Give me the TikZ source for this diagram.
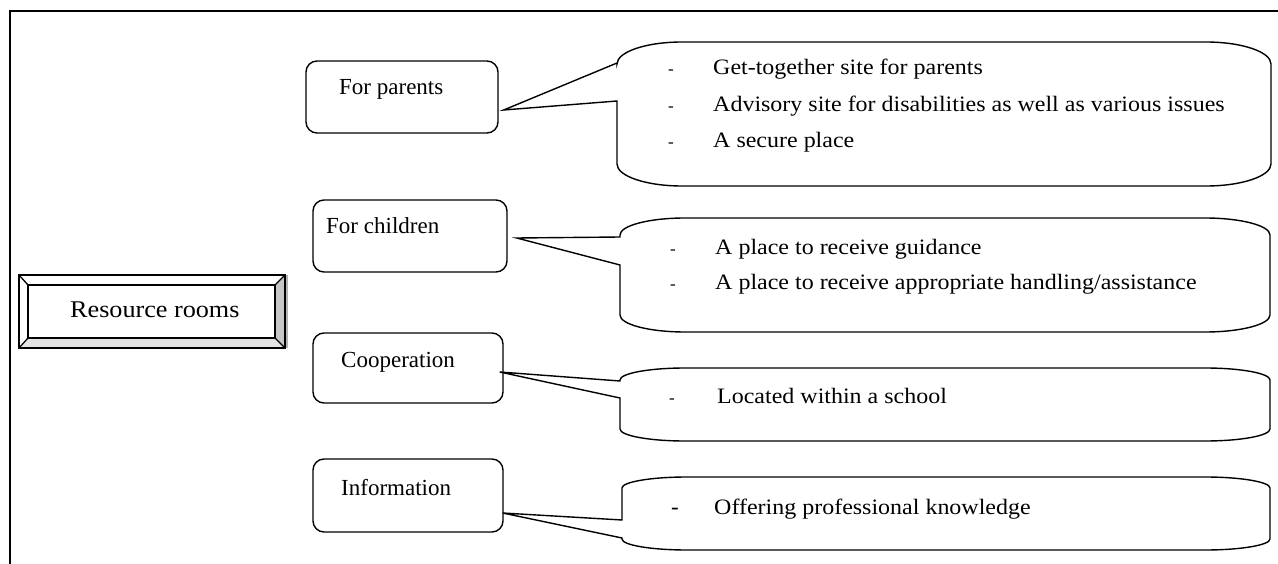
\documentclass[tikz,border=0pt]{standalone}
\usepackage{fontspec}
\setmainfont{Liberation Serif}
\newfontfamily\widefont[FakeStretch=1.09]{Liberation Serif}
\usetikzlibrary{calc}

% Rounded callout with a wedge pointer on its left side:
% #1 left, #2 right, #3 top, #4 bottom, #5 corner x radius, #6 corner y radius,
% #7 upper and #8 lower wedge attachments on the left side, #9 wedge tip
\newcommand{\calloutshape}[9]{%
  \draw[callout] (#1,#7) -- (#1,{#3+#6})
    .. controls (#1,{#3+0.448*#6}) and ({#1+0.448*#5},#3) .. ({#1+#5},#3)
    -- ({#2-#5},#3)
    .. controls ({#2-0.448*#5},#3) and (#2,{#3+0.448*#6}) .. (#2,{#3+#6})
    -- (#2,{#4-#6})
    .. controls (#2,{#4-0.448*#6}) and ({#2-0.448*#5},#4) .. ({#2-#5},#4)
    -- ({#1+#5},#4)
    .. controls ({#1+0.448*#5},#4) and (#1,{#4-0.448*#6}) .. (#1,{#4-#6})
    -- (#1,#8) -- (#9) -- cycle;}

\begin{document}
\begin{tikzpicture}[x=1pt,y=-1pt,
  frame/.style={line width=2.2pt},
  catbox/.style={draw, line width=1.4pt, rounded corners=11pt, inner sep=0pt},
  catlabel/.style={font=\fontsize{23}{27}\selectfont, anchor=base west, inner sep=0pt},
  note/.style={font=\widefont\fontsize{22}{26}\selectfont, anchor=base west, inner sep=0pt},
  hyphmark/.style={font=\fontsize{17}{20}\selectfont, anchor=base west, inner sep=0pt},
  bighyph/.style={font=\fontsize{23}{25}\selectfont, anchor=base west, inner sep=0pt},
  callout/.style={line width=1.4pt, line join=miter},
  bevel/.style={line width=1.3pt}]
\useasboundingbox (0,0) rectangle (1278,564);

% outer frame (top and left edges)
\draw[frame] (10,564) -- (10,11) -- (1278,11);

% bevelled "Resource rooms" box
\fill[gray!45] (275,285) -- (285,275) -- (285,348) -- (275,338) -- cycle;
\fill[gray!22] (28,338) -- (275,338) -- (285,348) -- (19,348) -- cycle;
\fill[gray!60] (285.8,275) rectangle (287.5,348);
\draw[bevel] (19,275) rectangle (285,348);
\draw[bevel] (28,285) rectangle (275,338);
\draw[bevel] (19,275) -- (28,285) (285,275) -- (275,285)
             (19,348) -- (28,338) (285,348) -- (275,338);
\node[anchor=base west, inner sep=0pt, font=\widefont\fontsize{24}{28}\selectfont]
  (rooms) at (70,317) {Resource rooms};

% category boxes
\node[catbox, minimum width=192pt, minimum height=72pt] (parbox) at (402,97) {};
\node[catbox, minimum width=194pt, minimum height=72pt] (chibox) at (410,236) {};
\node[catbox, minimum width=190pt, minimum height=70pt] (coobox) at (408,368) {};
\node[catbox, minimum width=190pt, minimum height=73pt] (infbox) at (408,495.5) {};

\node[catlabel] (partext) at (339,95) {For parents};
\node[catlabel] (chitext) at (326,234) {For children};
\node[catlabel] (cootext) at (341,367) {Cooperation};
\node[catlabel] (inftext) at (341,495) {Information};

% wedge tips at the category boxes
\coordinate (partip) at ($(parbox.east)+(5,13)$);
\coordinate (chitip) at ($(chibox.east)+(9,2)$);
\coordinate (cootip) at ($(coobox.east)+(-4,4)$);
\coordinate (inftip) at ($(infbox.east)+(-1,17.5)$);

% callouts
\calloutshape{617}{1271}{42}{186}{65}{22}{63}{101}{partip}
\calloutshape{620}{1270}{218}{332}{65}{17}{237}{265}{chitip}
\calloutshape{620}{1270}{368}{441}{65}{12}{381}{398}{cootip}
\calloutshape{622}{1270}{477}{550}{65}{11}{520}{538}{inftip}

% callout texts
\node[hyphmark] (pd1) at (668,75) {-};
\node[note] (p1) at (713,75) {Get-together site for parents};
\node[hyphmark] (pd2) at (668,112) {-};
\node[note] (p2) at (713,112) {Advisory site for disabilities as well as various issues};
\node[hyphmark] (pd3) at (668,148) {-};
\node[note] (p3) at (713,148) {A secure place};

\node[hyphmark] (cd1) at (670,255) {-};
\node[note] (c1) at (715,255) {A place to receive guidance};
\node[hyphmark] (cd2) at (670,290) {-};
\node[note] (c2) at (715,290) {A place to receive appropriate handling/assistance};

\node[hyphmark] (od1) at (669,403) {-};
\node[note] (o1) at (717,403) {Located within a school};

\node[bighyph] (id1) at (671,514) {-};
\node[note] (i1) at (714,514) {Offering professional knowledge};
\end{tikzpicture}
\end{document}
